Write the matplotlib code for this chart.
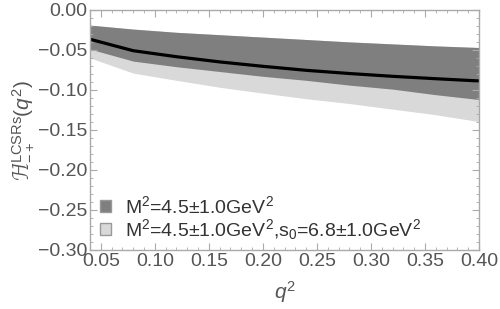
import matplotlib
matplotlib.use("Agg")
import matplotlib.pyplot as plt
from matplotlib.ticker import MultipleLocator, FormatStrFormatter, FuncFormatter
from matplotlib.patches import Patch

q2 = [0.04, 0.08, 0.12, 0.16, 0.20, 0.24, 0.28, 0.32, 0.36, 0.40]
central = [-0.0367, -0.051, -0.0585, -0.065, -0.0705, -0.0755, -0.0795, -0.083, -0.086, -0.0888]
dark_upper = [-0.019, -0.024, -0.028, -0.031, -0.034, -0.037, -0.040, -0.0425, -0.045, -0.047]
dark_lower = [-0.049, -0.064, -0.071, -0.077, -0.083, -0.088, -0.094, -0.099, -0.106, -0.112]
light_lower = [-0.060, -0.079, -0.088, -0.0967, -0.104, -0.111, -0.117, -0.124, -0.131, -0.1396]

label_dark = r"M$^2$=4.5±1.0GeV$^2$"
label_light = r"M$^2$=4.5±1.0GeV$^2$,s$_0$=6.8±1.0GeV$^2$"

plt.rcParams['font.family'] = ['Liberation Sans', 'DejaVu Sans']
plt.rcParams['mathtext.fontset'] = 'custom'
plt.rcParams['mathtext.rm'] = 'Liberation Sans'
plt.rcParams['mathtext.it'] = 'Liberation Sans:italic'

fig = plt.figure(figsize=(5.0, 3.09), dpi=100)
ax = fig.add_axes([0.18, 0.191, 0.778, 0.777])

ax.fill_between(q2, light_lower, dark_upper, color='#d9d9d9', lw=0)
ax.fill_between(q2, dark_lower, dark_upper, color='#7f7f7f', lw=0)
ax.plot(q2, central, color='black', lw=2.3)

ax.set_xlim(0.04, 0.40)
ax.set_ylim(-0.30, 0.00)
ax.xaxis.set_major_locator(MultipleLocator(0.05))
ax.xaxis.set_minor_locator(MultipleLocator(0.01))
ax.yaxis.set_major_locator(MultipleLocator(0.05))
ax.yaxis.set_minor_locator(MultipleLocator(0.01))
ax.xaxis.set_major_formatter(FormatStrFormatter('%.2f'))
ax.yaxis.set_major_formatter(FuncFormatter(lambda v, p: ('%.2f' % v).replace('-', '\u2212')))

gray = '#aaaaaa'
for s in ax.spines.values():
    s.set_color(gray)
    s.set_linewidth(1.0)
ax.tick_params(which='both', direction='in', top=True, right=True, color=gray, labelcolor='#555555')
ax.tick_params(which='major', length=5, labelsize=14, pad=2)
ax.tick_params(which='minor', length=2.5)

ax.set_xlabel(r'$q^2$', fontsize=15, color='#555555', labelpad=7)
ax.set_ylabel(r'$\mathcal{H}_{-+}^{\mathrm{LCSRs}}(q^2)$', fontsize=15, color='#555555', labelpad=1)

handles = [Patch(facecolor='#7f7f7f', edgecolor='#999999', label=label_dark),
           Patch(facecolor='#d9d9d9', edgecolor='#999999', label=label_light)]
leg = ax.legend(handles=handles, loc='lower left', frameon=False, fontsize=14,
                handlelength=0.55, handleheight=0.55, handletextpad=0.75,
                labelspacing=0.0, borderpad=0, borderaxespad=0,
                bbox_to_anchor=(0.026, 0.035), labelcolor='#333333')

fig.savefig('out.png', dpi=100)
